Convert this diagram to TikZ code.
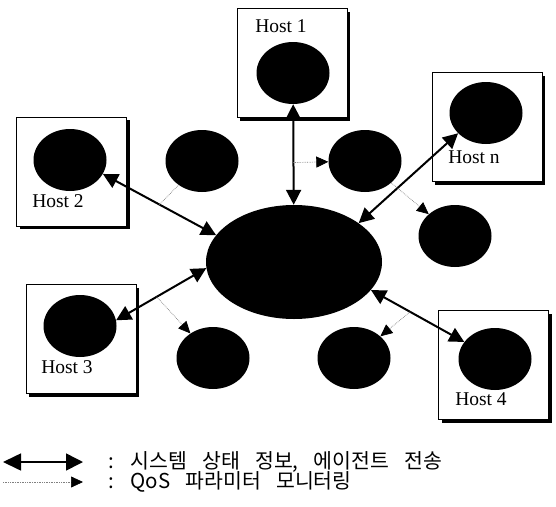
\documentclass[tikz,border=0pt]{standalone}
\usepackage{fontspec}
\setmainfont{Liberation Serif}
\newfontfamily\kr[WordSpace=3.3]{Noto Sans CJK KR}
\usetikzlibrary{shapes.geometric,arrows.meta}
\begin{document}
\begin{tikzpicture}[x=1pt,y=-1pt,
 hostbox/.style={draw=black,line width=0.8pt,fill=white,minimum width=110pt,minimum height=109pt,inner sep=0pt},
 hostshadow/.style={fill=black,minimum width=110pt,minimum height=109pt,inner sep=0pt},
 blob/.style={ellipse,fill=black,minimum width=73pt,minimum height=62pt,inner sep=0pt},
 hostlabel/.style={font=\fontsize{19.5}{20}\selectfont,inner sep=0pt},
 legendtext/.style={anchor=west,inner sep=0pt,font=\kr\fontsize{20.5}{21}\selectfont},
 link/.style={line width=2pt,{Triangle[length=15pt,width=15pt]}-{Triangle[length=15pt,width=15pt]}},
 monline/.style={gray,line width=0.7pt,densely dotted},
 mon/.style={monline,-{Triangle[length=12pt,width=11pt,color=black]}},
]
\useasboundingbox (0,0) rectangle (556,506);

% hosts
\node[hostshadow] (s1) at (295,66) {};
\node[hostbox] (b1) at (292,63) {};
\node[blob] (h1) at (293,73) {};
\node[hostlabel] (l1) at (281,26) {Host 1};

\node[hostshadow] (sn) at (490,130) {};
\node[hostbox] (bn) at (487,127) {};
\node[blob] (hn) at (486,113) {};
\node[hostlabel] (ln) at (474,157) {Host n};

\node[hostshadow] (s2) at (74.5,174.5) {};
\node[hostbox] (b2) at (71.5,171.5) {};
\node[blob] (h2) at (70,160) {};
\node[hostlabel] (l2) at (58,201) {Host 2};

\node[hostshadow] (s3) at (84,342) {};
\node[hostbox] (b3) at (81,339) {};
\node[blob] (h3) at (80,326) {};
\node[hostlabel] (l3) at (67,367) {Host 3};

\node[hostshadow] (s4) at (496.5,368) {};
\node[hostbox] (b4) at (493.5,365) {};
\node[blob] (h4) at (495,359) {};
\node[hostlabel] (l4) at (481,399) {Host 4};

% agents
\node[blob] (a1) at (365,161) {};
\node[blob] (a2) at (202,161) {};
\node[blob] (an) at (455,236) {};
\node[blob] (a3) at (213,358) {};
\node[blob] (a4) at (354,358) {};

% central
\node[ellipse,fill=black,minimum width=176pt,minimum height=114pt,inner sep=0pt] (srv) at (294,262) {};

% links
\draw[link] (h1) -- coordinate[pos=0.58] (m1) (srv);
\draw[link] (h2.-23) -- coordinate[pos=0.5] (m2) (srv.161);
\draw[link] (hn.216) -- (srv.31);
\draw[link] (h3.9) -- coordinate[pos=0.45] (m3) (srv.184);
\draw[link] (srv.-20) -- coordinate[pos=0.42] (m4) (h4.151);

% monitoring
\draw[mon] (m1) -- (a1);
\draw[monline] (m2) -- (a2);
\draw[mon] (a1) -- (an);
\draw[mon] (m3) -- (a3);
\draw[mon] (m4) -- (a4);

% legend
\coordinate (k1a) at (3,462);
\coordinate (k1b) at (83,462);
\draw[line width=1.6pt,{Triangle[length=18pt,width=17pt]}-{Triangle[length=17pt,width=17pt]}] (k1a) -- (k1b);
\node[legendtext] (t1) at (108,462) {: 시스템 상태 정보, 에이전트 전송};
\coordinate (k2a) at (3,482);
\coordinate (k2b) at (83,482);
\draw[mon] (k2a) -- (k2b);
\node[legendtext] (t2) at (108,482) {: QoS 파라미터 모니터링};
\end{tikzpicture}
\end{document}
